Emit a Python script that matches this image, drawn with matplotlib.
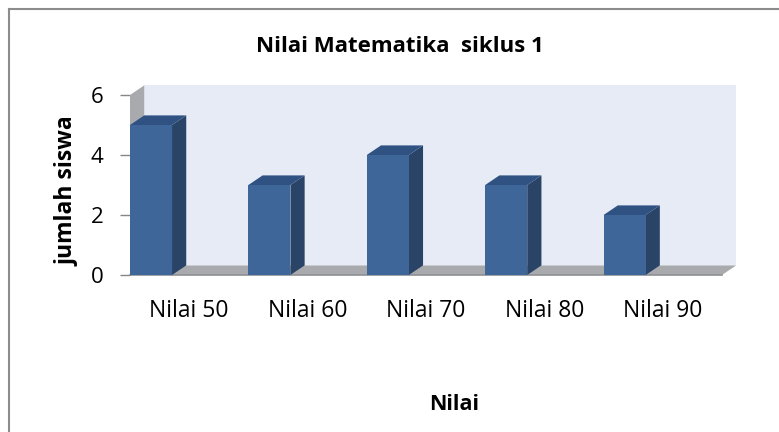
import matplotlib
matplotlib.use("Agg")
import matplotlib.pyplot as plt
from matplotlib.patches import Polygon
from matplotlib.lines import Line2D

# data
categories = ["Nilai 50", "Nilai 60", "Nilai 70", "Nilai 80", "Nilai 90"]
jumlah_siswa = [5, 3, 4, 3, 2]
y_ticks = [0, 2, 4, 6]

plt.rcParams['font.family'] = ['Open Sans', 'DejaVu Sans']

W, H = 779, 432
fig = plt.figure(figsize=(W / 100, H / 100), dpi=100)

# front plane of the 3d box, in pixels
x0, x1 = 130, 722
ytop, ybot = 95, 275
ax = fig.add_axes([x0 / W, 1 - ybot / H, (x1 - x0) / W, (ybot - ytop) / H])
ax.set_xlim(0, len(categories))
ax.set_ylim(0, 6)

# depth offset (data units)
dx, dy = 0.12, 0.32
bar_w = 0.355

# back wall
ax.add_patch(Polygon([(dx, dy), (5 + dx, dy), (5 + dx, 6 + dy), (dx, 6 + dy)],
                     closed=True, fc="#E6EBF5", ec="none", clip_on=False, zorder=1))
# side wall
ax.add_patch(Polygon([(0, 0), (dx, dy), (dx, 6 + dy), (0, 6)],
                     closed=True, fc="#A9AAAD", ec="none", clip_on=False, zorder=2))
# floor
ax.add_patch(Polygon([(0, 0), (5, 0), (5 + dx, dy), (dx, dy)],
                     closed=True, fc="#A8AAAD", ec="none", clip_on=False, zorder=2))
ax.plot([0, 5], [0, 0], color="#8E9093", lw=1.2, clip_on=False, zorder=2)

# bars
for i, v in enumerate(jumlah_siswa):
    l, r = i, i + bar_w
    side = [(r, 0), (r + dx, dy), (r + dx, v + dy), (r, v)]
    top = [(l, v), (r, v), (r + dx, v + dy), (l + dx, v + dy)]
    ax.add_patch(Polygon(side, closed=True, fc="#2A4468", ec="none", clip_on=False, zorder=3))
    ax.add_patch(Polygon(top, closed=True, fc="#2F5283", ec="none", clip_on=False, zorder=3))
    ax.bar(l, v, width=bar_w, align="edge", color="#3E6699", zorder=4)

for s in ax.spines.values():
    s.set_visible(False)
ax.set_facecolor("none")
ax.set_yticks(y_ticks)
ax.tick_params(axis="y", length=7, color="#868686", width=1, labelsize=16, pad=12)
ax.set_xticks([i + 0.5 for i in range(len(categories))])
ax.set_xticklabels(categories)
ax.tick_params(axis="x", length=0, labelsize=16.5, pad=17)

fig.text(400 / W, 1 - 46 / H, "Nilai Matematika  siklus 1", ha="center", va="center",
         fontsize=16, fontweight="bold")
fig.text(68 / W, 1 - 191 / H, "jumlah siswa", ha="center", va="center",
         rotation=90, fontsize=16.5, fontweight="bold")
fig.text(454 / W, 1 - 405 / H, "Nilai", ha="center", va="center",
         fontsize=15.5, fontweight="bold")

# chart border (top and left visible)
fig.add_artist(Line2D([8.5 / W, 8.5 / W], [0, 1 - 8.5 / H], color="#8C8C8C", lw=1.5))
fig.add_artist(Line2D([8.5 / W, 1], [1 - 8.5 / H, 1 - 8.5 / H], color="#8C8C8C", lw=1.5))

fig.savefig("out.png", dpi=100)
